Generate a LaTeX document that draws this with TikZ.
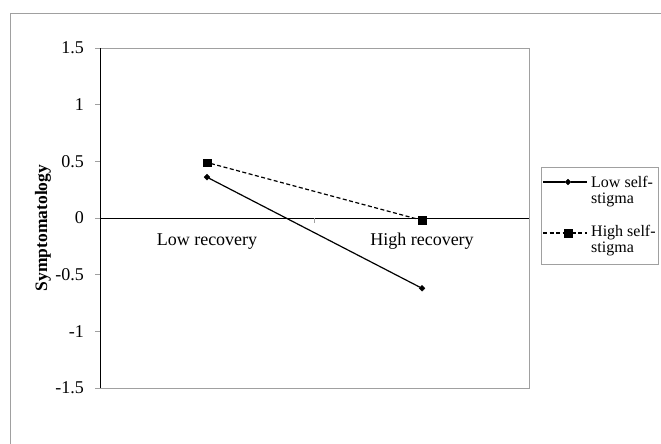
\documentclass[tikz,border=0pt]{standalone}
\usepackage{fontspec}
\setmainfont{Liberation Serif}
\usetikzlibrary{shapes.geometric}
\definecolor{framegray}{RGB}{160,160,160}
\tikzset{
  lowmark/.style={draw, diamond, fill=black, inner sep=0pt, minimum size=6pt},
  highmark/.style={draw, rectangle, fill=black, inner sep=0pt, minimum size=7.5pt},
  axislabel/.style={font=\fontsize{18}{21}\selectfont},
  legendlabel/.style={font=\fontsize{16}{16}\selectfont, align=left, inner sep=0pt, anchor=base west}
}
\begin{document}
\begin{tikzpicture}[x=1pt,y=1pt]
        \useasboundingbox (0,0) rectangle (661,444);
        \draw[framegray] (10,0) -- (10,431) -- (661,431);
        \draw[framegray] (100,56) rectangle (529,396);

        % y axis
        \foreach \v in {-1.5,-1,-0.5,0,0.5,1,1.5} {
            \draw[framegray] (95,226+\v*113.33) -- (100,226+\v*113.33);
            \node[axislabel, anchor=east, inner sep=0pt] at (84,226+\v*113.33) {\v};
        }
        \draw[black] (100,56) -- (100,396);
        \draw[black] (100,226) -- (529,226);
        \draw[framegray] (314.5,226) -- (314.5,221);
        \node[font=\fontsize{17.5}{20}\selectfont\bfseries, rotate=90] (ytitle) at (43,216) {Symptomatology};

        \node[axislabel, anchor=base] (low) at (207,198) {Low recovery};
        \node[axislabel, anchor=base] (high) at (422,198) {High recovery};

        % data
        \node[lowmark] (1) at (207,266.8) {};
        \node[lowmark] (2) at (422,155.7) {};
        \node[highmark] (3) at (207,281.5) {};
        \node[highmark] (4) at (422,223.7) {};
        \path[draw,line width=1.2pt] (1) -- (2);
        \path[draw,line width=1.2pt,dash pattern=on 4pt off 2.5pt] (3) -- (4);

        % legend
        \draw[framegray] (541,180) rectangle (658,277);
        \coordinate (5a) at (543,262);
        \coordinate (5b) at (587,262);
        \node[lowmark] (5) at (568,262) {};
        \path[draw,line width=1.2pt] (5a) -- (5) -- (5b);
        \node[legendlabel] (5t) at (591,240) {Low self-\\stigma};
        \coordinate (6a) at (543,211);
        \coordinate (6b) at (587,211);
        \node[highmark] (6) at (568,211) {};
        \path[draw,line width=1.2pt,dash pattern=on 4pt off 2.5pt] (6a) -- (6) -- (6b);
        \node[legendlabel] (6t) at (591,191) {High self-\\stigma};
\end{tikzpicture}
\end{document}
